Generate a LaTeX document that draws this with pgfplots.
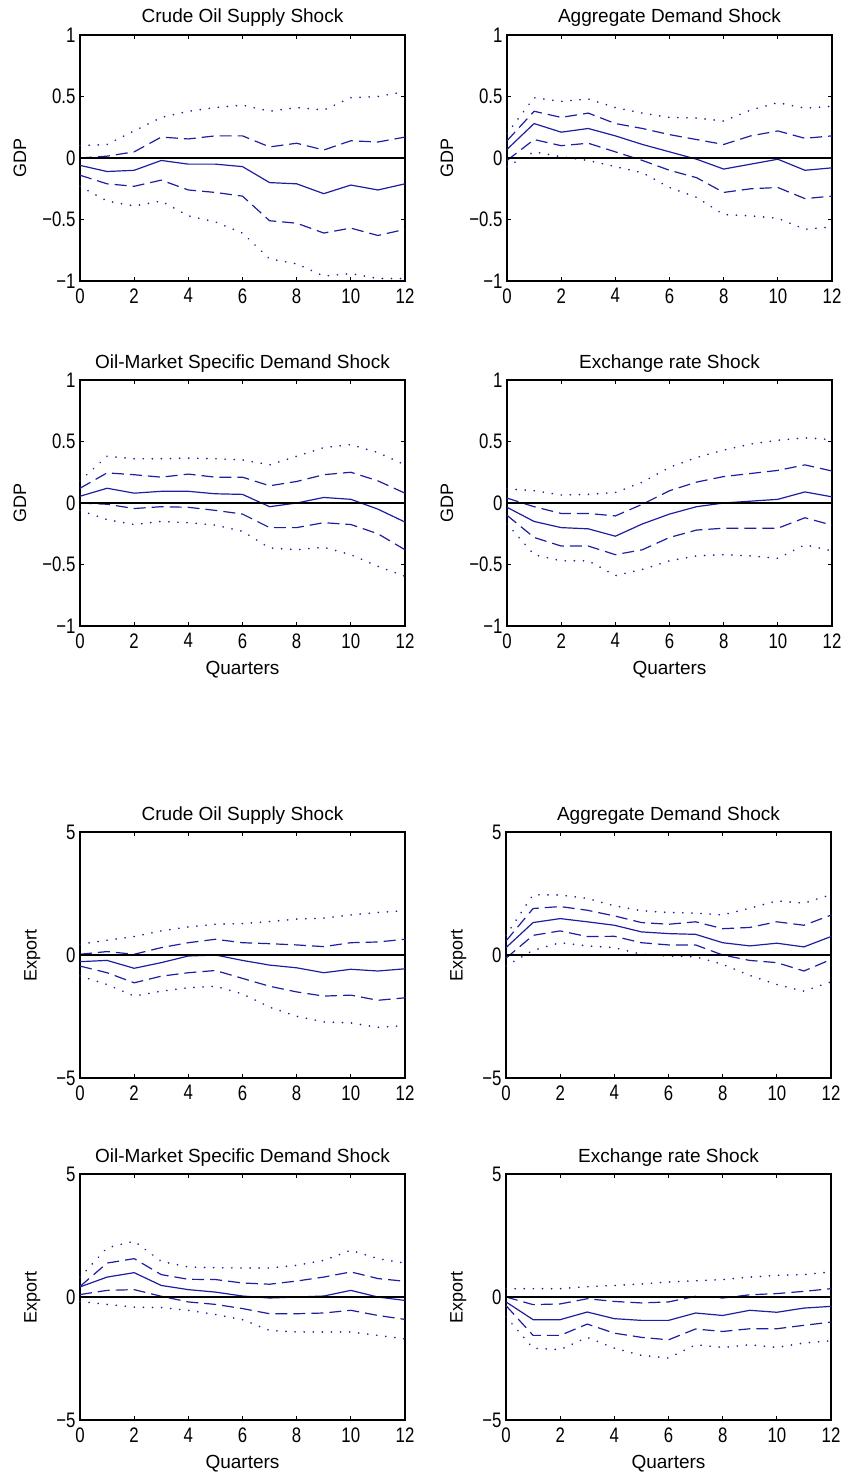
\documentclass[border=0pt]{standalone}
\usepackage{fontspec}
\setmainfont{Liberation Sans}
\newfontfamily\tickfont[FakeStretch=0.8]{Liberation Sans}
\usepackage{pgfplots}
\usepackage{pgfplotstable}
\pgfplotsset{compat=1.18}
\definecolor{irfblue}{RGB}{30,30,160}

\pgfplotstableread{
x m u1 l1 u2 l2
0 -0.06 0.00 -0.14 0.10 -0.23
1 -0.11 0.015 -0.21 0.11 -0.35
2 -0.10 0.05 -0.23 0.22 -0.39
3 -0.02 0.17 -0.18 0.33 -0.35
4 -0.05 0.155 -0.26 0.38 -0.47
5 -0.05 0.18 -0.28 0.41 -0.52
6 -0.07 0.18 -0.31 0.43 -0.61
7 -0.20 0.09 -0.51 0.38 -0.82
8 -0.21 0.12 -0.53 0.41 -0.86
9 -0.29 0.065 -0.61 0.39 -0.96
10 -0.22 0.14 -0.57 0.49 -0.94
11 -0.26 0.13 -0.63 0.50 -0.98
12 -0.21 0.17 -0.58 0.54 -0.98
}\gdpA
\pgfplotstableread{
x m u1 l1 u2 l2
0 0.07 0.14 -0.02 0.20 -0.07
1 0.28 0.38 0.15 0.49 0.05
2 0.21 0.33 0.10 0.46 0.01
3 0.24 0.365 0.12 0.48 -0.02
4 0.18 0.28 0.05 0.41 -0.07
5 0.11 0.24 -0.02 0.365 -0.12
6 0.05 0.19 -0.10 0.33 -0.24
7 -0.01 0.15 -0.16 0.325 -0.32
8 -0.09 0.11 -0.28 0.30 -0.46
9 -0.05 0.18 -0.25 0.39 -0.47
10 -0.01 0.22 -0.24 0.45 -0.49
11 -0.10 0.16 -0.33 0.405 -0.58
12 -0.08 0.18 -0.31 0.42 -0.56
}\gdpB
\pgfplotstableread{
x m u1 l1 u2 l2
0 0.055 0.12 0.00 0.18 -0.06
1 0.12 0.245 -0.01 0.38 -0.135
2 0.08 0.23 -0.045 0.36 -0.175
3 0.095 0.21 -0.03 0.36 -0.15
4 0.095 0.235 -0.035 0.365 -0.16
5 0.075 0.21 -0.06 0.36 -0.18
6 0.07 0.21 -0.09 0.35 -0.23
7 -0.03 0.14 -0.20 0.31 -0.365
8 0.0 0.175 -0.20 0.38 -0.38
9 0.045 0.23 -0.16 0.45 -0.36
10 0.03 0.25 -0.175 0.475 -0.42
11 -0.05 0.18 -0.25 0.41 -0.515
12 -0.155 0.08 -0.38 0.31 -0.595
}\gdpC
\pgfplotstableread{
x m u1 l1 u2 l2
0 -0.035 0.04 -0.10 0.115 -0.17
1 -0.15 -0.03 -0.28 0.10 -0.42
2 -0.20 -0.085 -0.35 0.065 -0.47
3 -0.21 -0.085 -0.35 0.07 -0.47
4 -0.27 -0.105 -0.42 0.085 -0.59
5 -0.17 -0.01 -0.38 0.17 -0.54
6 -0.09 0.10 -0.28 0.29 -0.47
7 -0.03 0.17 -0.22 0.37 -0.43
8 0.0 0.215 -0.205 0.43 -0.42
9 0.015 0.24 -0.205 0.48 -0.43
10 0.03 0.265 -0.205 0.51 -0.45
11 0.09 0.31 -0.12 0.53 -0.34
12 0.05 0.26 -0.18 0.515 -0.39
}\gdpD
\pgfplotstableread{
x m u1 l1 u2 l2
0 -0.27 0.03 -0.45 0.44 -0.85
1 -0.22 0.14 -0.72 0.60 -1.20
2 -0.54 0.03 -1.13 0.75 -1.67
3 -0.31 0.30 -0.86 0.98 -1.47
4 -0.04 0.50 -0.72 1.14 -1.33
5 0.0 0.64 -0.63 1.25 -1.27
6 -0.22 0.50 -0.95 1.28 -1.58
7 -0.41 0.46 -1.27 1.36 -2.12
8 -0.52 0.41 -1.50 1.46 -2.49
9 -0.72 0.34 -1.67 1.50 -2.72
10 -0.58 0.50 -1.63 1.63 -2.76
11 -0.65 0.53 -1.84 1.73 -2.94
12 -0.56 0.64 -1.74 1.80 -2.87
}\expA
\pgfplotstableread{
x m u1 l1 u2 l2
0 0.30 0.57 -0.13 0.80 -0.45
1 1.32 1.89 0.80 2.45 0.19
2 1.48 1.97 0.98 2.44 0.50
3 1.35 1.82 0.75 2.30 0.37
4 1.21 1.59 0.76 2.0 0.30
5 0.94 1.32 0.50 1.80 0.03
6 0.87 1.25 0.41 1.73 -0.04
7 0.84 1.35 0.41 1.70 -0.07
8 0.50 1.07 0.0 1.63 -0.38
9 0.37 1.12 -0.22 1.90 -0.83
10 0.48 1.35 -0.31 2.20 -1.20
11 0.33 1.21 -0.65 2.11 -1.47
12 0.75 1.62 -0.18 2.45 -1.09
}\expB
\pgfplotstableread{
x m u1 l1 u2 l2
0 0.41 0.43 0.10 0.80 -0.18
1 0.81 1.38 0.27 2.0 -0.30
2 0.99 1.56 0.30 2.27 -0.41
3 0.47 0.91 0.03 1.45 -0.43
4 0.30 0.72 -0.20 1.22 -0.54
5 0.20 0.71 -0.30 1.19 -0.71
6 0.04 0.57 -0.47 1.18 -0.92
7 -0.04 0.52 -0.68 1.18 -1.36
8 0.0 0.65 -0.68 1.29 -1.42
9 0.04 0.81 -0.65 1.49 -1.42
10 0.27 1.02 -0.54 1.90 -1.42
11 0.0 0.75 -0.75 1.56 -1.56
12 -0.14 0.64 -0.91 1.38 -1.70
}\expC
\pgfplotstableread{
x m u1 l1 u2 l2
0 -0.20 0.0 -0.35 0.34 -0.80
1 -0.92 -0.31 -1.56 0.34 -2.08
2 -0.92 -0.28 -1.56 0.34 -2.14
3 -0.61 -0.07 -1.10 0.42 -1.64
4 -0.88 -0.18 -1.47 0.47 -2.08
5 -0.95 -0.24 -1.64 0.53 -2.37
6 -0.95 -0.20 -1.74 0.61 -2.48
7 -0.65 0.03 -1.30 0.66 -1.94
8 -0.75 -0.04 -1.40 0.71 -2.05
9 -0.54 0.09 -1.29 0.81 -1.94
10 -0.62 0.14 -1.29 0.88 -2.05
11 -0.45 0.23 -1.15 0.91 -1.87
12 -0.38 0.34 -1.02 1.02 -1.78
}\expD

\pgfplotsset{
  irf/.style={
    scale only axis, width=325pt, height=246pt, anchor=north west,
    xmin=0, xmax=12, xtick={0,2,4,6,8,10,12}, xticklabels={0,2,4,6,8,10,12},
    tick align=inside, xtick pos=both, ytick pos=both,
    xticklabel pos=lower, yticklabel pos=left,
    major tick length=4pt,
    axis line style={line width=1.3pt},
    every tick/.style={black, line width=1pt},
    tick label style={font=\tickfont\fontsize{21}{21}\selectfont},
    xticklabel style={yshift=-4pt},
    yticklabel style={xshift=-1pt},
    every axis title/.style={at={(axis description cs:0.5,1)}, anchor=base, yshift=12pt, font=\fontsize{19}{22}\selectfont},
    every axis x label/.style={at={(axis description cs:0.5,-0.179)}, anchor=center, font=\fontsize{19}{22}\selectfont},
    clip=false,
  },
  gdp/.style={ymin=-1, ymax=1, ytick={-1,-0.5,0,0.5,1}, yticklabels={−1,−0.5,0,0.5,1}, ylabel={GDP},
    every axis y label/.style={at={(axis description cs:-0.185,0.5)}, rotate=90, anchor=center, font=\fontsize{18}{22}\selectfont}},
  exp/.style={ymin=-5, ymax=5, ytick={-5,0,5}, yticklabels={−5,0,5}, ylabel={Export},
    every axis y label/.style={at={(axis description cs:-0.147,0.5)}, rotate=90, anchor=center, font=\fontsize{18}{22}\selectfont}},
  med/.style={irfblue, line width=1.2pt},
  b68/.style={irfblue, line width=1.2pt, dash pattern=on 12pt off 6pt},
  b95/.style={irfblue, line width=1.8pt, line cap=round, dash pattern=on 0.1pt off 9pt},
  zl/.style={black, line width=1.4pt},
}

\newcommand{\irfplots}[1]{%
  \addplot[med] table[x=x,y=m]{#1};
  \addplot[b68] table[x=x,y=u1]{#1};
  \addplot[b68] table[x=x,y=l1]{#1};
  \addplot[b95] table[x=x,y=u2]{#1};
  \addplot[b95] table[x=x,y=l2]{#1};
  \addplot[zl] coordinates {(0,0) (12,0)};
}

\begin{document}
\begin{tikzpicture}
\path[use as bounding box] (0pt,0pt) rectangle (841pt,-1479pt);

\begin{axis}[irf, gdp, at={(80pt,-35pt)}, title={Crude Oil Supply Shock}]
\irfplots{\gdpA}
\end{axis}
\begin{axis}[irf, gdp, at={(507pt,-35pt)}, title={Aggregate Demand Shock}]
\irfplots{\gdpB}
\end{axis}
\begin{axis}[irf, gdp, at={(80pt,-380pt)}, title={Oil-Market Specific Demand Shock}, xlabel={Quarters}]
\irfplots{\gdpC}
\end{axis}
\begin{axis}[irf, gdp, at={(507pt,-380pt)}, title={Exchange rate Shock}, xlabel={Quarters}]
\irfplots{\gdpD}
\end{axis}

\begin{axis}[irf, exp, at={(80pt,-832pt)}, title={Crude Oil Supply Shock}]
\irfplots{\expA}
\end{axis}
\begin{axis}[irf, exp, at={(506pt,-832pt)}, title={Aggregate Demand Shock}]
\irfplots{\expB}
\end{axis}
\begin{axis}[irf, exp, at={(80pt,-1174pt)}, title={Oil-Market Specific Demand Shock}, xlabel={Quarters}]
\irfplots{\expC}
\end{axis}
\begin{axis}[irf, exp, at={(506pt,-1174pt)}, title={Exchange rate Shock}, xlabel={Quarters}]
\irfplots{\expD}
\end{axis}
\end{tikzpicture}
\end{document}
